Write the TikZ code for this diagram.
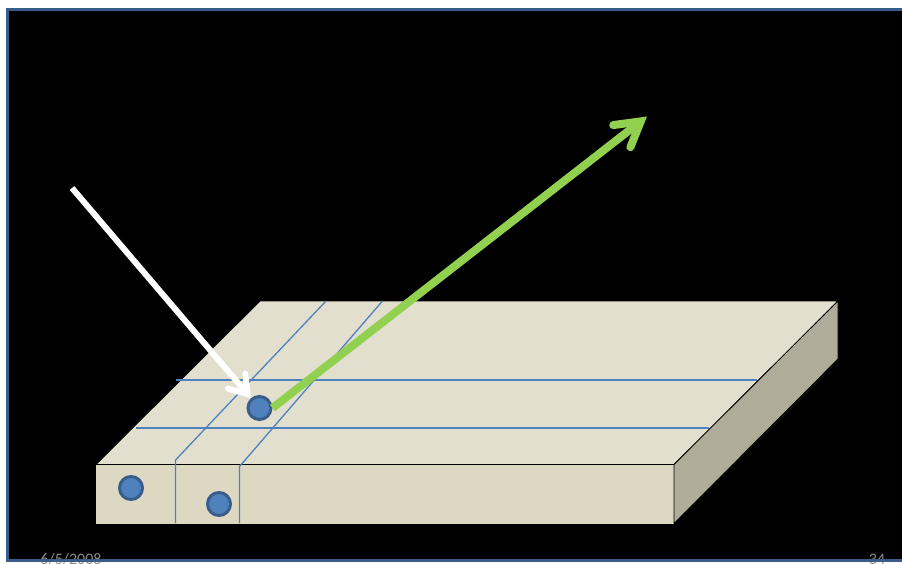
\documentclass[tikz,border=0pt]{standalone}
\usepackage{fontspec}
\setmainfont{Carlito}
\usetikzlibrary{arrows.meta}
\definecolor{slabtop}{HTML}{E2DFCF}
\definecolor{slabfront}{HTML}{DDD8C2}
\definecolor{slabside}{HTML}{B0AC9A}
\definecolor{gridblue}{HTML}{4F81BD}
\definecolor{rimblue}{HTML}{385D8A}
\definecolor{beamgreen}{HTML}{92D050}
\begin{document}
\begin{tikzpicture}
  [x=1pt, y=-1pt,
   face/.style = {draw=black, line width=0.8pt, line join=round},
   grid/.style = {draw=gridblue, line width=1.3pt},
   dot/.style = {circle, fill=gridblue, draw=rimblue, line width=3pt, minimum size=23pt, inner sep=0pt, outer sep=1.5pt},
   ray/.style n args = {3}{-{Straight Barb[length=#2, width=#3, line cap=round]}, line width=#1},
   foot/.style = {text=black!45, font=\fontsize{16}{18}\selectfont, inner sep=0pt, anchor=base}]
  \clip (0,0) rectangle (902,563);
  \fill[black] (7.5,9) rectangle (902,560);
  \node (date) [foot] at (71,564.5) {6/5/2008};
  \node (page) [foot] at (877,564.5) {34};
  \draw[rimblue, line width=3pt] (902,9) -- (7.5,9) -- (7.5,560) -- (902,560);
  % slab
  \coordinate (backl) at (260,301);
  \coordinate (backr) at (838,301);
  \coordinate (frontl) at (96,464.5);
  \coordinate (frontr) at (674,464.5);
  \coordinate (lowl) at (96,523.5);
  \coordinate (lowr) at (674,523.5);
  \coordinate (lowb) at (838,359);
  \draw[face, fill=slabtop] (backl) -- (backr) -- (frontr) -- (frontl) -- cycle;
  \draw[face, fill=slabfront, draw=none] (frontl) -- (frontr) -- (lowr) -- (lowl) -- cycle;
  \draw[face, fill=slabside] (frontr) -- (backr) -- (lowb) -- (lowr) -- cycle;
  \draw[line width=0.8pt] (frontl) -- (frontr);
  % lines on the slab
  \draw[grid] (176,380) -- (757,380);
  \draw[grid] (136,428) -- (709,428);
  \draw[grid] (326,301) -- (175.5,460) -- (175.5,523);
  \draw[grid] (382.5,301) -- (239.5,466.5) -- (239.5,523);
  % dots
  \node (spot) [dot] at (259.5,408) {};
  \node (dotleft) [dot] at (131,488) {};
  \node (dotfront) [dot] at (219,504) {};
  % rays
  \coordinate (lamp) at (72,188);
  \coordinate (far) at (647,116.5);
  \draw[ray={6pt}{17pt}{23pt}, white] (lamp) -- (spot);
  \draw[ray={8pt}{24pt}{28pt}, beamgreen] (spot.east) -- (far);
\end{tikzpicture}
\end{document}
